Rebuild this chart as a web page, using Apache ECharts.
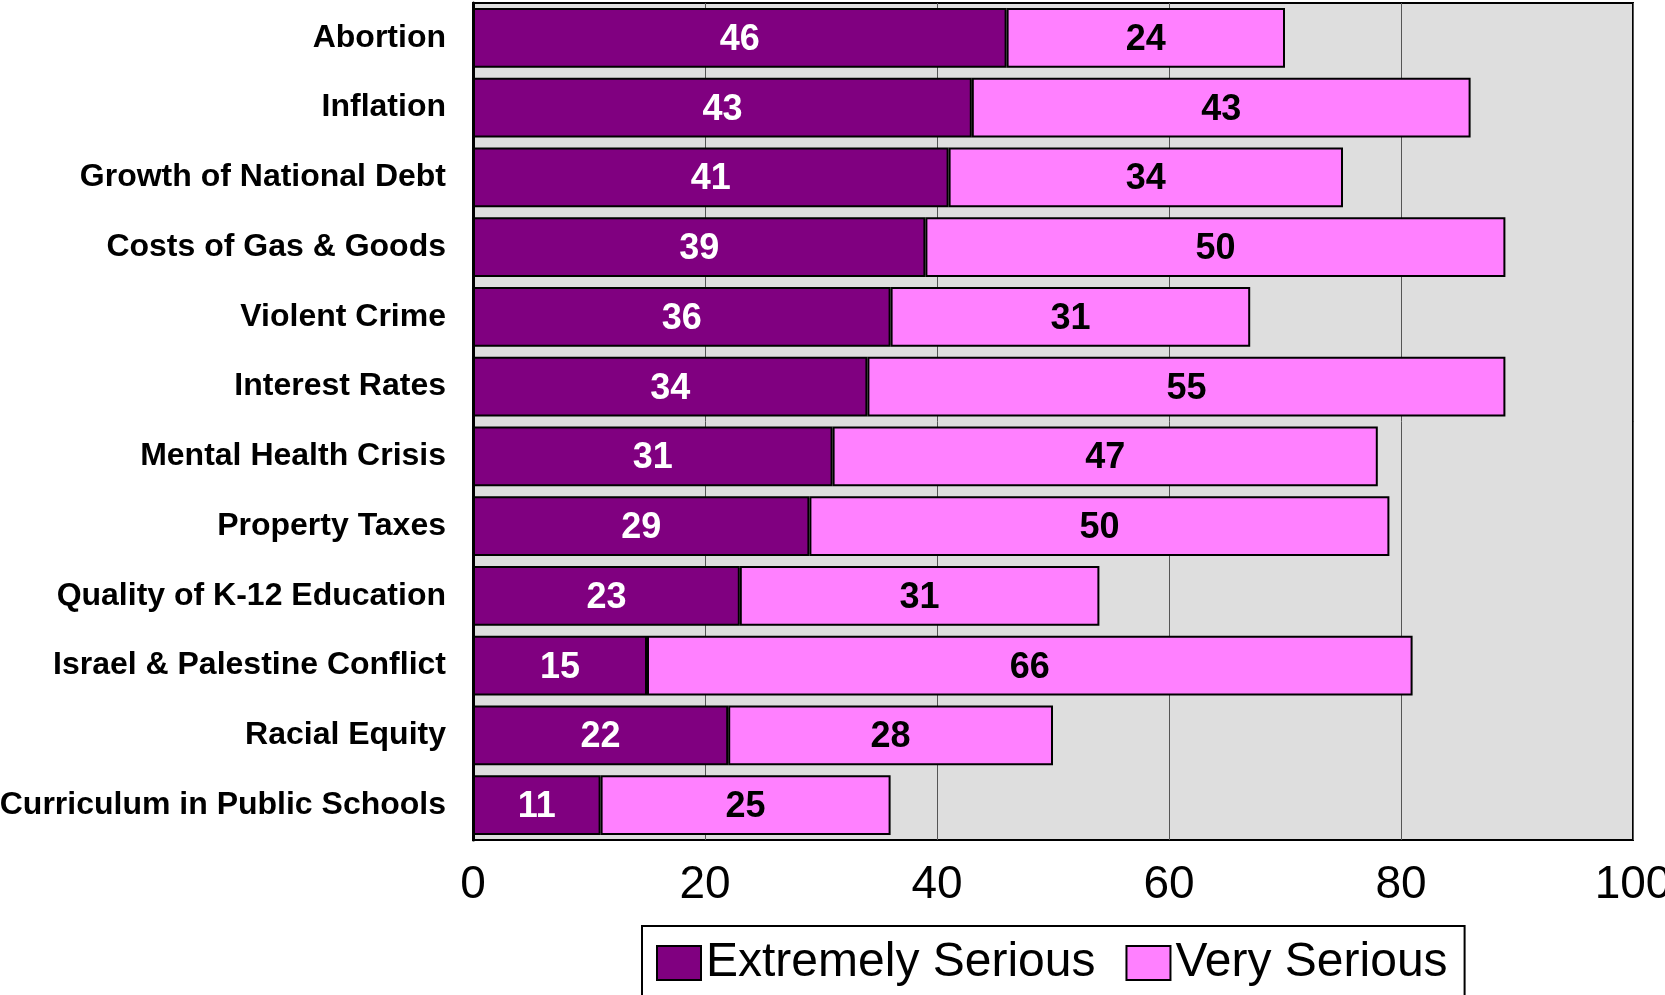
<!DOCTYPE html>
<html>
<head>
<meta charset="utf-8">
<script src="https://cdn.jsdelivr.net/npm/echarts@6/dist/echarts.min.js"></script>
<style>
  html, body { margin: 0; padding: 0; background: #fff; }
  #chart { width: 1665px; height: 995px; }
</style>
</head>
<body>
<div id="chart"></div>
<script>
const issues = [
  'Abortion', 'Inflation', 'Growth of National Debt', 'Costs of Gas & Goods',
  'Violent Crime', 'Interest Rates', 'Mental Health Crisis', 'Property Taxes',
  'Quality of K-12 Education', 'Israel & Palestine Conflict', 'Racial Equity',
  'Curriculum in Public Schools'
]
const extremelySerious = [46, 43, 41, 39, 36, 34, 31, 29, 23, 15, 22, 11]
const verySerious      = [24, 43, 34, 50, 31, 55, 47, 50, 31, 66, 28, 25]
const xTicks = [0, 20, 40, 60, 80, 100]

const font = 'Arial, "Liberation Sans", sans-serif'
const darkPurple = '#800080'
const pink = '#FF80FF'

const chart = echarts.init(document.getElementById('chart'), null, { renderer: 'canvas' })

chart.setOption({
  animation: false,
  backgroundColor: '#fff',
  grid: {
    left: 473, right: 32, top: 3, bottom: 155,
    outerBoundsMode: 'none', containLabel: false,
    show: true, backgroundColor: '#DEDEDE',
    borderColor: '#000', borderWidth: 2
  },
  xAxis: {
    type: 'value', min: xTicks[0], max: xTicks[xTicks.length - 1], interval: 20,
    axisLine: { show: false },
    axisTick: { show: false },
    axisLabel: { color: '#000', fontFamily: font, fontSize: 46, margin: 22 },
    splitLine: { show: true, lineStyle: { color: '#555', width: 1 } }
  },
  yAxis: {
    type: 'category', data: issues, inverse: true,
    axisLine: { show: true, lineStyle: { color: '#000', width: 3 } },
    axisTick: { show: false },
    axisLabel: { color: '#000', fontFamily: font, fontSize: 32, fontWeight: 'bold', margin: 27, padding: [4, 0, 0, 0] }
  },
  legend: {
    left: 642, top: 926,
    data: ['Extremely Serious', 'Very Serious'],
    icon: 'rect', itemWidth: 44, itemHeight: 34, itemGap: 30,
    padding: [13, 17, 40, 14],
    borderColor: '#000', borderWidth: 2, backgroundColor: '#fff',
    textStyle: { color: '#000', fontFamily: font, fontSize: 48 }
  },
  series: [
    {
      name: 'Extremely Serious', type: 'bar', stack: 'total',
      data: extremelySerious, barCategoryGap: '14%',
      itemStyle: { color: darkPurple, borderColor: '#000', borderWidth: 2 },
      label: { show: true, position: 'inside', color: '#fff', fontFamily: font, fontSize: 36, fontWeight: 'bold', offset: [0, 2] }
    },
    {
      name: 'Very Serious', type: 'bar', stack: 'total',
      data: verySerious, barCategoryGap: '14%',
      itemStyle: { color: pink, borderColor: '#000', borderWidth: 2 },
      label: { show: true, position: 'inside', color: '#000', fontFamily: font, fontSize: 36, fontWeight: 'bold', offset: [0, 2] }
    }
  ]
})
</script>
</body>
</html>
